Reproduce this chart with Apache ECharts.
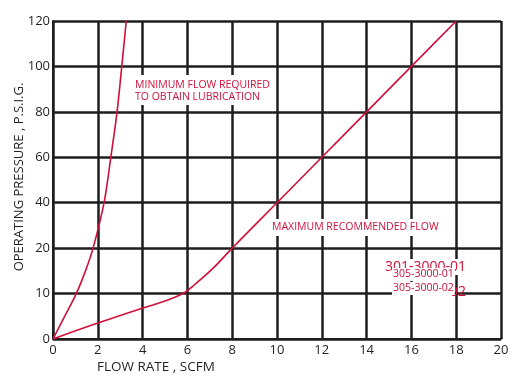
<!DOCTYPE html>
<html>
<head>
<meta charset="utf-8">
<script src="https://cdn.jsdelivr.net/npm/echarts@6/dist/echarts.min.js"></script>
<style>
html,body{margin:0;padding:0;background:#fff;}
#chart{width:515px;height:381px;}
</style>
</head>
<body>
<div id="chart"></div>
<script>
// ---- data ----
const xTicks = [0, 2, 4, 6, 8, 10, 12, 14, 16, 18, 20];
const yTickLabels = [0, 10, 20, 40, 60, 80, 100, 120];
// Minimum flow required to obtain lubrication
const minFlow     = [0, 0.52, 1.04, 1.45, 1.79, 2.28, 2.58, 2.86, 3.07, 3.27];
const minPressure = [0, 5,    10,   15,   20,   40,   60,   80,   100,  120];
// Maximum recommended flow
const maxFlow     = [0, 2,   4,   4.9, 5.8, 6.4,  7.15, 8,  10, 12, 14, 16, 18];
const maxPressure = [0, 3.5, 6.8, 8.2, 10,  12.3, 15.6, 20, 40, 60, 80, 100, 120];

// piecewise pressure scale: ticks equally spaced at yTickLabels
function pToIdx(p) {
  for (let i = 0; i < yTickLabels.length - 1; i++) {
    const a = yTickLabels[i], b = yTickLabels[i + 1];
    if (p <= b) return i + (p - a) / (b - a);
  }
  return yTickLabels.length - 1;
}
function build(xs, ps) { return xs.map((x, i) => [x, pToIdx(ps[i])]); }

const RED = '#d0103a';
const INK = '#1e1e1e';
const TXT = '#231f20';
const FONT = '"Open Sans", "Liberation Sans", sans-serif';

const chart = echarts.init(document.getElementById('chart'), null, {renderer: 'canvas'});
chart.setOption({
  animation: false,
  backgroundColor: '#fff',
  grid: {left: 53, right: 14, top: 21, bottom: 42, show: false, containLabel: false, outerBoundsMode: 'none'},
  xAxis: {
    type: 'value', min: xTicks[0], max: xTicks[xTicks.length - 1], interval: 2,
    axisLine: {show: true, lineStyle: {color: INK, width: 2}},
    axisTick: {show: false},
    axisLabel: {fontFamily: FONT, fontSize: 13, color: TXT, margin: 5, showMaxLabel: true, showMinLabel: true},
    splitLine: {show: true, lineStyle: {color: INK, width: 2.5}}
  },
  yAxis: {
    type: 'value', min: 0, max: yTickLabels.length - 1, interval: 1,
    axisLine: {show: true, lineStyle: {color: INK, width: 2}},
    axisTick: {show: false},
    axisLabel: {fontFamily: FONT, fontSize: 13, color: TXT, margin: 3,
      formatter: v => String(yTickLabels[Math.round(v)])},
    splitLine: {show: true, lineStyle: {color: INK, width: 2.5}}
  },
  series: [
    {type: 'line', data: build(minFlow, minPressure), smooth: 0.35, symbol: 'none',
     lineStyle: {color: RED, width: 1.6}, z: 5},
    {type: 'line', data: build(maxFlow, maxPressure), smooth: 0.4, symbol: 'none',
     lineStyle: {color: RED, width: 1.6}, z: 5}
  ],
  graphic: [
    {type: 'text', x: 97, y: 367, z: 100,
     style: {text: 'FLOW RATE , SCFM', font: '13.5px ' + FONT, fill: TXT, verticalAlign: 'middle'}},
    {type: 'text', x: 19, y: 177, rotation: Math.PI / 2, z: 100,
     style: {text: 'OPERATING PRESSURE , P.S.I.G.', font: '13px ' + FONT, fill: TXT, align: 'center', verticalAlign: 'middle'}},
    {type: 'text', x: 134, y: 75, z: 100,
     style: {text: 'MINIMUM FLOW REQUIRED\nTO OBTAIN LUBRICATION', font: '10.5px ' + FONT, fill: RED,
       lineHeight: 12, backgroundColor: '#fff', padding: [4, 2, 2, 1]}},
    {type: 'text', x: 271, y: 219, z: 100,
     style: {text: 'MAXIMUM RECOMMENDED FLOW', font: '10.5px ' + FONT, fill: RED,
       backgroundColor: '#fff', padding: [3, 2, 3, 1]}},
    {type: 'text', x: 466, y: 259, z: 100,
     style: {text: '301-3000-01', font: '14px ' + FONT, fill: RED, align: 'right', verticalAlign: 'top',
       backgroundColor: '#fff', padding: [1, 0, 1, 0]}},
    {type: 'text', x: 466, y: 285, z: 100,
     style: {text: '02', font: '14px ' + FONT, fill: RED, align: 'right', verticalAlign: 'alphabetic'}},
    {type: 'text', x: 392, y: 268, z: 101,
     style: {text: '305-3000-01', font: '10.5px ' + FONT, fill: RED,
       backgroundColor: '#fff', padding: [1, 1, 1, 1]}},
    {type: 'text', x: 392, y: 282, z: 101,
     style: {text: '305-3000-02', font: '10.5px ' + FONT, fill: RED,
       backgroundColor: '#fff', padding: [1, 1, 1, 1]}}
  ]
});
</script>
</body>
</html>
